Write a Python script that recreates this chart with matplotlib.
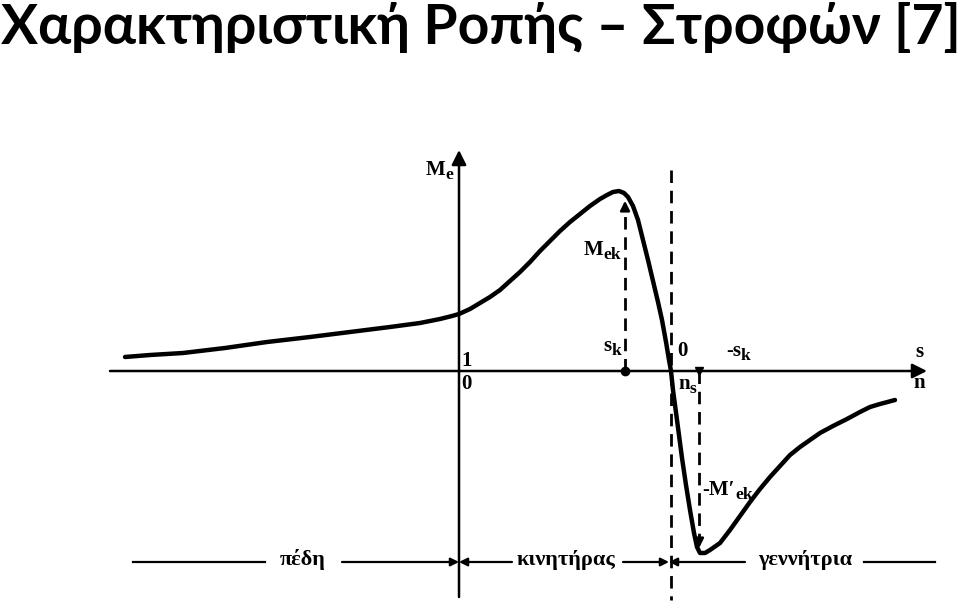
import matplotlib.pyplot as plt

title = 'Χαρακτηριστική Ροπής – Στροφών [7]'

# torque-speed curve, schematic units (picture space)
curve_x = [125, 150, 183, 225, 267, 310, 350, 390, 420, 440, 452, 459, 470, 480,
           490, 500, 510, 520, 530, 540, 550, 560, 570, 580, 590, 600, 607, 613,
           619, 624, 628, 633, 638, 643, 648, 653, 658, 662, 666, 669, 671, 673,
           677, 682, 686, 690, 694, 697, 700, 705, 710, 720, 730, 740, 750, 760,
           770, 780, 790, 800, 810, 820, 833, 847, 860, 870, 880, 895]
curve_y = [357, 355, 353, 348, 342, 337, 332, 327, 323, 319, 316, 314, 309, 303,
           297, 290, 281, 272, 262, 251, 241, 231, 222, 214, 206, 199, 195, 192,
           191, 193, 197, 206, 220, 240, 260, 281, 302, 320, 342, 360, 371, 390,
           420, 458, 485, 510, 533, 547, 553, 553, 550, 543, 530, 516, 502, 489,
           477, 466, 455, 447, 440, 433, 426, 419, 412, 407, 404, 400]

origin_x, origin_y = 459, 371
s_k, s_0, s_k_neg = 625, 671, 699
M_ek, M_ek_neg = 198, 551

region_names = ['πέδη', 'κινητήρας', 'γεννήτρια']
region_text_x = [303, 566, 805]

fig = plt.figure(figsize=(9.6, 6.04), dpi=100)
ax = fig.add_axes([0, 0, 1, 1])
ax.set_xlim(0, 960)
ax.set_ylim(604, 0)
ax.axis('off')

fig.text(0.001, 0.997, title, ha='left', va='top', fontsize=39.8, fontweight='bold',
         family=['Lato', 'Open Sans', 'DejaVu Sans'])

arrow_big = dict(arrowstyle='-|>', lw=1.8, color='black', mutation_scale=22,
                 shrinkA=0, shrinkB=0)
arrow_small = dict(arrowstyle='-|>', lw=1.6, color='black', mutation_scale=12,
                   shrinkA=0, shrinkB=0)

# axes
ax.annotate('', xy=(origin_x, 150), xytext=(origin_x, 597), arrowprops=arrow_big)
ax.annotate('', xy=(927, origin_y), xytext=(110, origin_y), arrowprops=arrow_big)

# dashed guides
dash = dict(color='black', lw=2.0, dashes=(4.5, 2.8))
ax.plot([s_0, s_0], [170, 600], **dash)
ax.plot([s_k, s_k], [origin_y, M_ek + 12], **dash)
ax.plot([s_k_neg, s_k_neg], [origin_y, M_ek_neg - 12], **dash)
ax.annotate('', xy=(s_k, M_ek), xytext=(s_k, M_ek + 14),
            arrowprops=dict(arrowstyle='-|>', lw=1.8, color='black', mutation_scale=14))
ax.annotate('', xy=(s_k_neg, M_ek_neg), xytext=(s_k_neg, M_ek_neg - 14),
            arrowprops=dict(arrowstyle='-|>', lw=1.8, color='black', mutation_scale=14))
ax.plot([s_k], [origin_y], 'o', color='black', ms=6)
ax.plot([s_k_neg], [origin_y], 'v', color='black', ms=6)

# characteristic
ax.plot(curve_x, curve_y, color='black', lw=3.2, solid_capstyle='round',
        solid_joinstyle='round')

# bottom region line
by = 562
ax.plot([133, 265], [by, by], color='black', lw=1.6)
ax.annotate('', xy=(origin_x, by), xytext=(342, by), arrowprops=arrow_small)
ax.annotate('', xy=(origin_x, by), xytext=(512, by), arrowprops=arrow_small)
ax.annotate('', xy=(s_0 - 2, by), xytext=(623, by), arrowprops=arrow_small)
ax.annotate('', xy=(s_0 - 2, by), xytext=(745, by), arrowprops=arrow_small)
ax.plot([864, 935], [by, by], color='black', lw=1.6)
for name, tx in zip(region_names, region_text_x):
    ax.text(tx, by - 2, name, ha='center', va='center', fontsize=16,
            fontweight='bold', family='Liberation Serif')

# labels: main part ends at x, subscript starts there
serif = dict(fontweight='bold', family='Liberation Serif', color='black')


def label(x, y, main, sub=''):
    ax.text(x, y, main, ha='right', va='center', fontsize=15, **serif)
    if sub:
        ax.text(x, y + 5, sub, ha='left', va='center', fontsize=12.5, **serif)


label(445, 170, 'M', 'e')
label(603, 250, 'M', 'ek')
label(612, 346, 's', 'k')
label(688, 351, '0')
label(741, 351, '-s', 'k')
label(924, 352, 's')
label(925, 383, 'n')
label(690, 384, 'n', 's')
label(472, 361, '1')
label(472, 384, '0')
label(735, 490, '-M\u2032', 'ek')

fig.savefig('out.png', dpi=100, facecolor='white')
